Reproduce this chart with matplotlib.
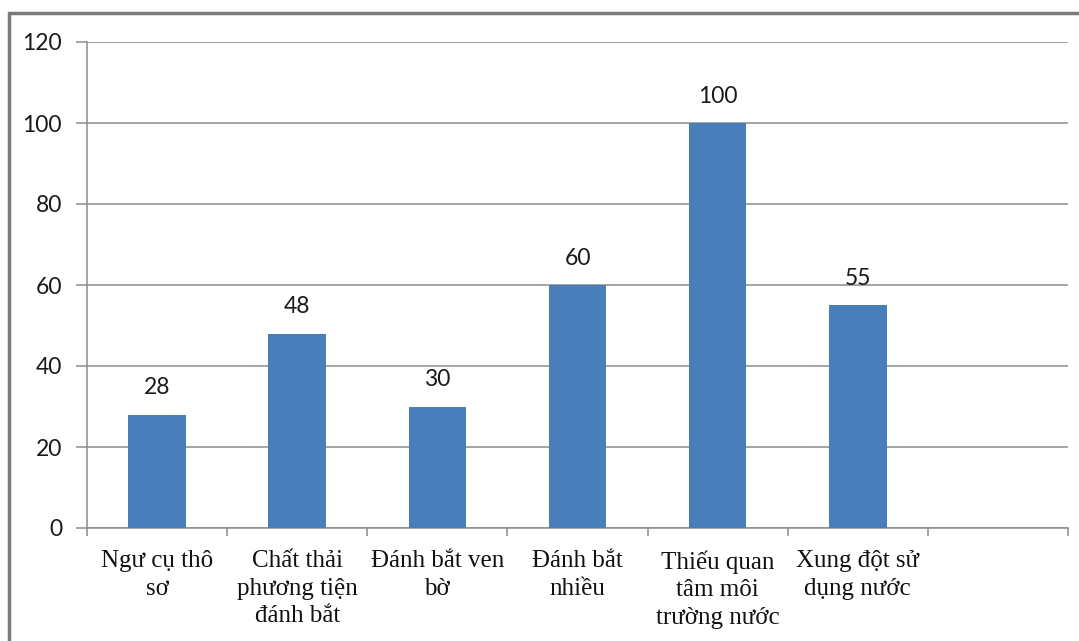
import matplotlib.pyplot as plt
from matplotlib.patches import Rectangle

categories = ['Ngư cụ thô\nsơ', 'Chất thải\nphương tiện\nđánh bắt', 'Đánh bắt ven\nbờ',
              'Đánh bắt\nnhiều', 'Thiếu quan\ntâm môi\ntrường nước', 'Xung đột sử\ndụng nước', '']
values = [28, 48, 30, 60, 100, 55]
yticks = [0, 20, 40, 60, 80, 100, 120]

W, H = 1079, 641
fig = plt.figure(figsize=(W / 100, H / 100), dpi=100)
fig.patch.set_facecolor('white')

# outer chart frame (only top and left edges fall inside the image)
fig.patches.append(Rectangle((9 / W, -0.1), 1.2, 1 - 13 / H + 0.1, transform=fig.transFigure,
                             fill=False, edgecolor='#7a7a7a', linewidth=2.5, zorder=0))

ax = fig.add_axes([87 / W, 1 - 528 / H, (1068 - 87) / W, (528 - 42) / H])
x = list(range(len(categories)))
ax.bar(x[:len(values)], values, width=0.41, color='#4a7ebb', zorder=3)
for xi, v in zip(x, values):
    ax.text(xi, v + 4, str(v), ha='center', va='bottom', fontsize=16.5, family='Lato', color='#1a1a1a')

ax.set_xlim(-0.5, len(categories) - 0.5)
ax.set_ylim(0, 120)
ax.set_yticks(yticks)
ax.set_yticklabels([str(t) for t in yticks], family='Lato', fontsize=16.5, color='#1a1a1a')
ax.yaxis.grid(True, color='#8c8c8c', linewidth=1.1, zorder=0)
ax.set_axisbelow(True)

ax.set_xticks([i - 0.5 for i in range(len(categories) + 1)], minor=False)
ax.set_xticklabels([])
ax.set_xticks(x, minor=True)
ax.set_xticklabels(categories, minor=True, family='Liberation Serif', fontsize=18,
                   color='#111111', linespacing=1.33)
ax.tick_params(axis='x', which='minor', length=0, pad=16)
ax.tick_params(axis='x', which='major', length=6, color='#8c8c8c', width=1.1)
ax.tick_params(axis='y', length=8, color='#8c8c8c', width=1.1, pad=10)

for s in ['top', 'right']:
    ax.spines[s].set_visible(False)
for s in ['left', 'bottom']:
    ax.spines[s].set_color('#8c8c8c')
    ax.spines[s].set_linewidth(1.1)

fig.savefig('out.png', dpi=100)
